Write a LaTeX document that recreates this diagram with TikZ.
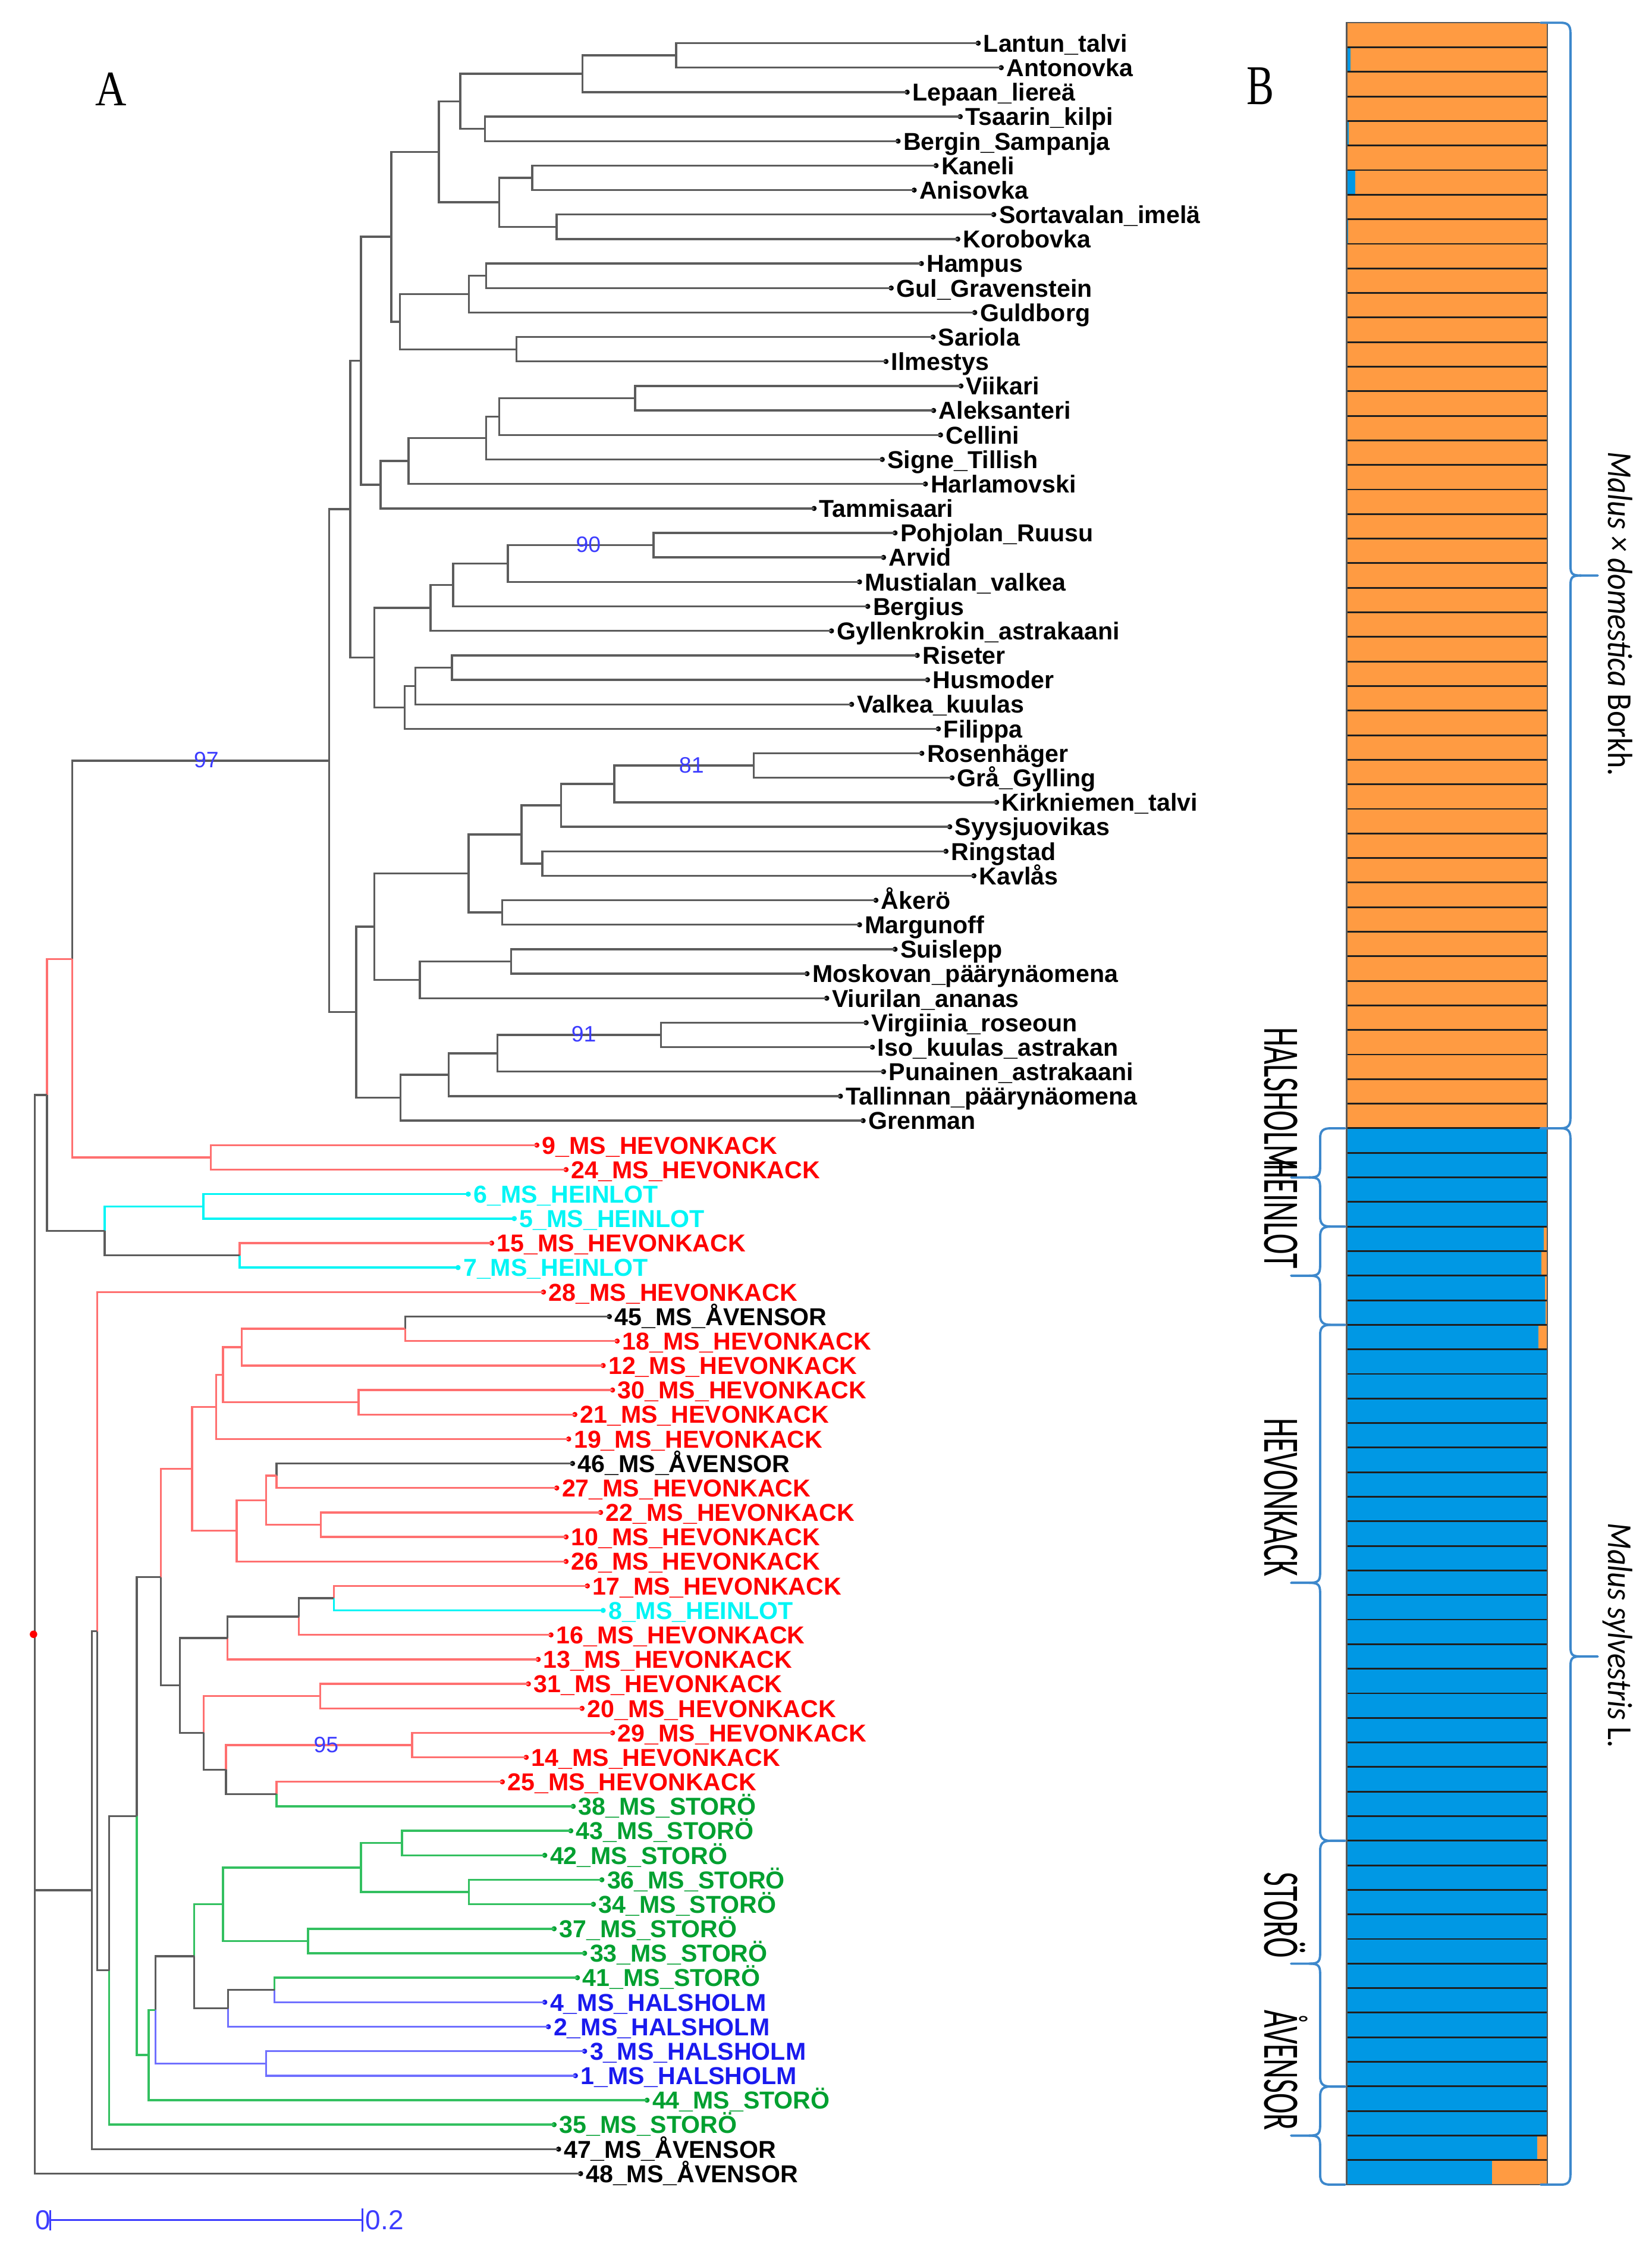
\documentclass[tikz,border=0pt]{standalone}
\usepackage{fontspec}
\usepackage{graphicx}
\setmainfont{Liberation Sans}
\newfontfamily\carl{Carlito}
\newfontfamily\serifA{Liberation Serif}
\usetikzlibrary{calc}
\definecolor{tgrey}{HTML}{5C5C5C}
\definecolor{ered}{HTML}{FF7070}
\definecolor{lred}{HTML}{FF0000}
\definecolor{ccyan}{HTML}{00F5F5}
\definecolor{egreen}{HTML}{33C060}
\definecolor{lgreen}{HTML}{00A030}
\definecolor{eblue}{HTML}{7070FF}
\definecolor{lblue}{HTML}{1A1AEE}
\definecolor{bootc}{HTML}{3C3CFF}
\definecolor{qorange}{HTML}{FF9B42}
\definecolor{qblue}{HTML}{0098E4}
\definecolor{bracec}{HTML}{3D88CC}
% leaf: idx, tip x, label, colour
\newcommand\lf[4]{%
  \coordinate (t#1) at (#2,{30+17.02*#1});
  \fill[#4] (t#1) circle (1.8);
  \node[leaflab,text=#4,anchor=base west] (l#1) at (#2+3.5,{30+17.02*#1+6.1}) {#3};
}
% join: name, x, child1, colour1, child2, colour2
\newcommand\jn[6]{%
  \path let \p1=(#3), \p2=(#5) in (#2,{0.5*(\y1+\y2)}) coordinate (#1);
  \draw[tedge,#4] (#3) -- (#3 -| #1) -- (#1);
  \draw[tedge,#6] (#5) -- (#5 -| #1) -- (#1);
}
\newcommand\rbr[2]{%
  \pgfmathsetmacro\ym{(#1+#2)/2}
  \draw[bracestyle] (1071,#1) -- (1085,#1) .. controls (1090,#1) and (1091.7,#1+2) .. (1091.7,#1+7) -- (1091.7,\ym-7) .. controls (1091.7,\ym-1) and (1093,\ym) .. (1099,\ym) -- (1110.7,\ym);
  \draw[bracestyle] (1071,#2) -- (1085,#2) .. controls (1090,#2) and (1091.7,#2-2) .. (1091.7,#2-7) -- (1091.7,\ym+7) .. controls (1091.7,\ym+1) and (1093,\ym) .. (1099,\ym);
}
\newcommand\lbr[2]{%
  \pgfmathsetmacro\ym{(#1+#2)/2}
  \draw[bracestyle] (935,#1) -- (925,#1) .. controls (919.5,#1) and (917.7,#1+2) .. (917.7,#1+7) -- (917.7,\ym-7) .. controls (917.7,\ym-1) and (916,\ym) .. (910,\ym) -- (897.5,\ym);
  \draw[bracestyle] (935,#2) -- (925,#2) .. controls (919.5,#2) and (917.7,#2-2) .. (917.7,#2-7) -- (917.7,\ym+7) .. controls (917.7,\ym+1) and (916,\ym) .. (910,\ym);
}
\begin{document}
\begin{tikzpicture}[x=1pt,y=-1pt,
  tedge/.style={line width=1.4pt,line join=miter},
  leaflab/.style={inner sep=0pt,font=\fontsize{17}{17}\selectfont\bfseries},
  boot/.style={text=bootc,inner sep=0pt,font=\fontsize{15.5}{15.5}\selectfont},
  bsep/.style={line width=1.2pt,draw=black!88},
  bracestyle/.style={draw=bracec,line width=1.6pt,line cap=round},
  grplab/.style={rotate=-90,inner sep=0pt,font=\carl\fontsize{21.5}{21.5}\selectfont},
  spclab/.style={rotate=-90,inner sep=0pt,font=\carl\fontsize{21.5}{21.5}\selectfont},
  panlab/.style={inner sep=0pt,font=\serifA\fontsize{30}{30}\selectfont}]
\fill[white] (0,0) rectangle (1148,1568);
\useasboundingbox (0,0) rectangle (1148,1568);

% ---------------- leaves ----------------
\lf{0}{680}{Lantun\_talvi}{black}
\lf{1}{696}{Antonovka}{black}
\lf{2}{630.6}{Lepaan\_liereä}{black}
\lf{3}{667.5}{Tsaarin\_kilpi}{black}
\lf{4}{624.3}{Bergin\_Sampanja}{black}
\lf{5}{650.7}{Kaneli}{black}
\lf{6}{635.5}{Anisovka}{black}
\lf{7}{690.8}{Sortavalan\_imelä}{black}
\lf{8}{665.8}{Korobovka}{black}
\lf{9}{640.5}{Hampus}{black}
\lf{10}{619.5}{Gul\_Gravenstein}{black}
\lf{11}{677.6}{Guldborg}{black}
\lf{12}{648.6}{Sariola}{black}
\lf{13}{615.9}{Ilmestys}{black}
\lf{14}{668}{Viikari}{black}
\lf{15}{649}{Aleksanteri}{black}
\lf{16}{653.8}{Cellini}{black}
\lf{17}{613.3}{Signe\_Tillish}{black}
\lf{18}{643.3}{Harlamovski}{black}
\lf{19}{565.9}{Tammisaari}{black}
\lf{20}{622.2}{Pohjolan\_Ruusu}{black}
\lf{21}{614.2}{Arvid}{black}
\lf{22}{597.5}{Mustialan\_valkea}{black}
\lf{23}{603.2}{Bergius}{black}
\lf{24}{578}{Gyllenkrokin\_astrakaani}{black}
\lf{25}{637.6}{Riseter}{black}
\lf{26}{644.8}{Husmoder}{black}
\lf{27}{592}{Valkea\_kuulas}{black}
\lf{28}{652.3}{Filippa}{black}
\lf{29}{640.8}{Rosenhäger}{black}
\lf{30}{661.8}{Grå\_Gylling}{black}
\lf{31}{692.8}{Kirkniemen\_talvi}{black}
\lf{32}{660.2}{Syysjuovikas}{black}
\lf{33}{657.6}{Ringstad}{black}
\lf{34}{677}{Kavlås}{black}
\lf{35}{608.9}{Åkerö}{black}
\lf{36}{597.5}{Margunoff}{black}
\lf{37}{622.2}{Suislepp}{black}
\lf{38}{561}{Moskovan\_päärynäomena}{black}
\lf{39}{574.7}{Viurilan\_ananas}{black}
\lf{40}{602.1}{Virgiinia\_roseoun}{black}
\lf{41}{606.4}{Iso\_kuulas\_astrakan}{black}
\lf{42}{614.2}{Punainen\_astrakaani}{black}
\lf{43}{584.2}{Tallinnan\_päärynäomena}{black}
\lf{44}{600}{Grenman}{black}
\lf{45}{373.2}{9\_MS\_HEVONKACK}{lred}
\lf{46}{393.5}{24\_MS\_HEVONKACK}{lred}
\lf{47}{325.5}{6\_MS\_HEINLOT}{ccyan}
\lf{48}{357.5}{5\_MS\_HEINLOT}{ccyan}
\lf{49}{341.8}{15\_MS\_HEVONKACK}{lred}
\lf{50}{318.4}{7\_MS\_HEINLOT}{ccyan}
\lf{51}{377.8}{28\_MS\_HEVONKACK}{lred}
\lf{52}{423.6}{45\_MS\_ÅVENSOR}{black}
\lf{53}{429}{18\_MS\_HEVONKACK}{lred}
\lf{54}{419.3}{12\_MS\_HEVONKACK}{lred}
\lf{55}{425.8}{30\_MS\_HEVONKACK}{lred}
\lf{56}{399.6}{21\_MS\_HEVONKACK}{lred}
\lf{57}{395.3}{19\_MS\_HEVONKACK}{lred}
\lf{58}{398}{46\_MS\_ÅVENSOR}{black}
\lf{59}{387}{27\_MS\_HEVONKACK}{lred}
\lf{60}{417.5}{22\_MS\_HEVONKACK}{lred}
\lf{61}{393.5}{10\_MS\_HEVONKACK}{lred}
\lf{62}{393.5}{26\_MS\_HEVONKACK}{lred}
\lf{63}{408.3}{17\_MS\_HEVONKACK}{lred}
\lf{64}{419.3}{8\_MS\_HEINLOT}{ccyan}
\lf{65}{383}{16\_MS\_HEVONKACK}{lred}
\lf{66}{374.1}{13\_MS\_HEVONKACK}{lred}
\lf{67}{367.3}{31\_MS\_HEVONKACK}{lred}
\lf{68}{404.6}{20\_MS\_HEVONKACK}{lred}
\lf{69}{425.8}{29\_MS\_HEVONKACK}{lred}
\lf{70}{365.8}{14\_MS\_HEVONKACK}{lred}
\lf{71}{349.2}{25\_MS\_HEVONKACK}{lred}
\lf{72}{398.5}{38\_MS\_STORÖ}{lgreen}
\lf{73}{396.8}{43\_MS\_STORÖ}{lgreen}
\lf{74}{378.7}{42\_MS\_STORÖ}{lgreen}
\lf{75}{418.4}{36\_MS\_STORÖ}{lgreen}
\lf{76}{412.5}{34\_MS\_STORÖ}{lgreen}
\lf{77}{385.2}{37\_MS\_STORÖ}{lgreen}
\lf{78}{406.4}{33\_MS\_STORÖ}{lgreen}
\lf{79}{401.4}{41\_MS\_STORÖ}{lgreen}
\lf{80}{378.7}{4\_MS\_HALSHOLM}{lblue}
\lf{81}{381.2}{2\_MS\_HALSHOLM}{lblue}
\lf{82}{406.4}{3\_MS\_HALSHOLM}{lblue}
\lf{83}{400}{1\_MS\_HALSHOLM}{lblue}
\lf{84}{449.8}{44\_MS\_STORÖ}{lgreen}
\lf{85}{385.2}{35\_MS\_STORÖ}{lgreen}
\lf{86}{388.3}{47\_MS\_ÅVENSOR}{black}
\lf{87}{403.6}{48\_MS\_ÅVENSOR}{black}

% ---------------- upper clade ----------------
\jn{a01}{470}{t0}{tgrey}{t1}{tgrey}
\jn{a02}{405}{a01}{tgrey}{t2}{tgrey}
\jn{a34}{337}{t3}{tgrey}{t4}{tgrey}
\jn{a04}{320}{a02}{tgrey}{a34}{tgrey}
\jn{a56}{370}{t5}{tgrey}{t6}{tgrey}
\jn{a78}{387}{t7}{tgrey}{t8}{tgrey}
\jn{a58}{347}{a56}{tgrey}{a78}{tgrey}
\jn{a08}{305}{a04}{tgrey}{a58}{tgrey}
\jn{a910}{338}{t9}{tgrey}{t10}{tgrey}
\jn{a911}{326}{a910}{tgrey}{t11}{tgrey}
\jn{a1213}{359}{t12}{tgrey}{t13}{tgrey}
\jn{a913}{278}{a911}{tgrey}{a1213}{tgrey}
\jn{a013}{272}{a08}{tgrey}{a913}{tgrey}
\jn{a1415}{441.5}{t14}{tgrey}{t15}{tgrey}
\jn{a1416}{347}{a1415}{tgrey}{t16}{tgrey}
\jn{a1417}{338}{a1416}{tgrey}{t17}{tgrey}
\jn{a1418}{284}{a1417}{tgrey}{t18}{tgrey}
\jn{a1419}{264.6}{a1418}{tgrey}{t19}{tgrey}
\jn{a019}{251}{a013}{tgrey}{a1419}{tgrey}
\jn{b2021}{454.3}{t20}{tgrey}{t21}{tgrey}
\jn{b2022}{353}{b2021}{tgrey}{t22}{tgrey}
\jn{b2023}{315}{b2022}{tgrey}{t23}{tgrey}
\jn{b2024}{299.3}{b2023}{tgrey}{t24}{tgrey}
\jn{b2526}{314.1}{t25}{tgrey}{t26}{tgrey}
\jn{b2527}{288.8}{b2526}{tgrey}{t27}{tgrey}
\jn{b2528}{281.4}{b2527}{tgrey}{t28}{tgrey}
\jn{b2028}{260.3}{b2024}{tgrey}{b2528}{tgrey}
\jn{a028}{243.5}{a019}{tgrey}{b2028}{tgrey}
\jn{c2930}{524}{t29}{tgrey}{t30}{tgrey}
\jn{c2931}{427}{c2930}{tgrey}{t31}{tgrey}
\jn{c2932}{390}{c2931}{tgrey}{t32}{tgrey}
\jn{c3334}{377}{t33}{tgrey}{t34}{tgrey}
\jn{c2934}{362.6}{c2932}{tgrey}{c3334}{tgrey}
\jn{c3536}{349}{t35}{tgrey}{t36}{tgrey}
\jn{c2936}{325.7}{c2934}{tgrey}{c3536}{tgrey}
\jn{c3738}{355.2}{t37}{tgrey}{t38}{tgrey}
\jn{c3739}{291.9}{c3738}{tgrey}{t39}{tgrey}
\jn{c2939}{260.3}{c2936}{tgrey}{c3739}{tgrey}
\jn{c4041}{459.6}{t40}{tgrey}{t41}{tgrey}
\jn{c4042}{345.7}{c4041}{tgrey}{t42}{tgrey}
\jn{c4043}{312}{c4042}{tgrey}{t43}{tgrey}
\jn{c4044}{278.3}{c4043}{tgrey}{t44}{tgrey}
\jn{c2944}{247.6}{c2939}{tgrey}{c4044}{tgrey}
\jn{n97}{228.8}{a028}{tgrey}{c2944}{tgrey}

% ---------------- lower part ----------------
\jn{d4546}{146.6}{t45}{ered}{t46}{ered}
\jn{d50}{50.2}{n97}{tgrey}{d4546}{ered}
\jn{d4748}{141.3}{t47}{ccyan}{t48}{ccyan}
\jn{d4950}{166.6}{t49}{ered}{t50}{ccyan}
\jn{d73}{72.8}{d4748}{ccyan}{d4950}{tgrey}
\jn{d33}{32.7}{d50}{ered}{d73}{tgrey}

\jn{e5253}{281.6}{t52}{tgrey}{t53}{ered}
\jn{e5254}{168.1}{e5253}{ered}{t54}{ered}
\jn{e5556}{249.3}{t55}{ered}{t56}{ered}
\jn{e5256}{155}{e5254}{ered}{e5556}{ered}
\jn{e5257}{150.2}{e5256}{ered}{t57}{ered}
\jn{e5859}{192.3}{t58}{tgrey}{t59}{ered}
\jn{e6061}{223.1}{t60}{ered}{t61}{ered}
\jn{e5861}{185}{e5859}{ered}{e6061}{ered}
\jn{e5862}{164.5}{e5861}{ered}{t62}{ered}
\jn{e5262}{133.5}{e5257}{ered}{e5862}{ered}
\jn{f6364}{232}{t63}{ered}{t64}{ccyan}
\jn{f6365}{207.8}{f6364}{tgrey}{t65}{ered}
\jn{f6366}{158.2}{f6365}{tgrey}{t66}{ered}
\jn{f6768}{222.5}{t67}{ered}{t68}{ered}
\jn{f6970}{286.4}{t69}{ered}{t70}{ered}
\jn{f7172}{192.3}{t71}{ered}{t72}{egreen}
\jn{f6972}{157.1}{f6970}{ered}{f7172}{tgrey}
\jn{f6772}{141.7}{f6768}{ered}{f6972}{tgrey}
\jn{f6372}{125.1}{f6366}{tgrey}{f6772}{tgrey}
\jn{e5272}{111.8}{e5262}{ered}{f6372}{tgrey}
\jn{g7374}{279.5}{t73}{egreen}{t74}{egreen}
\jn{g7576}{325.9}{t75}{egreen}{t76}{egreen}
\jn{g7376}{251}{g7374}{egreen}{g7576}{egreen}
\jn{g7778}{214.1}{t77}{egreen}{t78}{egreen}
\jn{g7378}{155}{g7376}{egreen}{g7778}{egreen}
\jn{g7980}{190.9}{t79}{egreen}{t80}{eblue}
\jn{g7981}{158.6}{g7980}{tgrey}{t81}{eblue}
\jn{g7381}{135}{g7378}{egreen}{g7981}{tgrey}
\jn{g8283}{185}{t82}{eblue}{t83}{eblue}
\jn{g7383}{108}{g7381}{tgrey}{g8283}{eblue}
\jn{g7384}{103.3}{g7383}{egreen}{t84}{egreen}
\jn{h5284}{95}{e5272}{tgrey}{g7384}{egreen}
\jn{h5285}{75.9}{h5284}{tgrey}{t85}{egreen}
\jn{h5185}{67.5}{t51}{ered}{h5285}{tgrey}
\jn{h5186}{63.8}{h5185}{tgrey}{t86}{tgrey}

% root (three children)
\path let \p1=(d33), \p2=(t87) in (24.3,{0.5*(\y1+\y2)}) coordinate (root);
\draw[tedge,tgrey] (d33) -- (d33 -| root) -- (t87 -| root) -- (t87);
\draw[tedge,tgrey] (h5186) -- (h5186 -| root);
\fill[red] (root) ++(-1,0) circle (2.6);

% bootstrap values
\node[boot] (bs97) at (143.4,528.3) {97};
\node[boot] (bs90) at (409,378.5) {90};
\node[boot] (bs81) at (480.7,532) {81};
\node[boot] (bs91) at (405.8,718.8) {91};
\node[boot] (bs95) at (226.7,1212.7) {95};

% scale bar
\draw[bootc,line width=1.3pt] (34.8,1543) -- (252,1543);
\draw[bootc,line width=1.3pt] (34.8,1536) -- (34.8,1550);
\draw[bootc,line width=1.3pt] (252,1535) -- (252,1551);
\node[inner sep=0pt,anchor=east,text=bootc,font=\fontsize{19}{19}\selectfont] (sc0) at (35.5,1543) {0};
\node[inner sep=0pt,anchor=west,text=bootc,font=\fontsize{19}{19}\selectfont] (sc2) at (254,1543) {0.2};

% panel letters
\node[panlab] (pA) at (77,62) {\scalebox{1}[1.15]{A}};
\node[panlab] (pB) at (876,60) {\scalebox{0.95}[1.3]{B}};

% ---------------- panel B ----------------
\fill[qorange] (936.1,15.8) rectangle (1075.7,784.2);
\fill[qblue] (936.1,784.2) rectangle (1075.7,1518.4);
\foreach \r/\w in {1/2.8,4/1.3,6/5.9,8/1.0}
  \fill[qblue] (936.1,{15.8+17.075*\r}) rectangle (936.1+\w,{15.8+17.075*(\r+1)});
\foreach \r/\w in {49/2.4,50/4.2,51/1.8,52/1.3,53/6.1,86/7.3,87/38.6}
  \fill[qorange] (1075.7-\w,{15.8+17.075*\r}) rectangle (1075.7,{15.8+17.075*(\r+1)});
\foreach \i in {1,...,87}
  \draw[bsep] (936.1,{15.8+17.075*\i}) -- (1075.7,{15.8+17.075*\i});
\draw[black!65,line width=1pt] (936.1,15.8) rectangle (1075.7,1518.4);

% braces
\rbr{15.8}{784.2}
\rbr{784.2}{1518.4}
\lbr{784.2}{852.5}
\lbr{852.5}{920.8}
\lbr{920.8}{1279.4}
\lbr{1279.4}{1450.2}
\lbr{1450.2}{1518.4}

% group labels
\node[grplab,anchor=base east] (gHAL) at (879,814) {\scalebox{1}[1.65]{HALSHOLM}};
\node[grplab,anchor=base east] (gHEI) at (879,882) {\scalebox{1}[1.65]{HEINLOT}};
\node[grplab,anchor=base east] (gHEV) at (879,1096) {\scalebox{1}[1.65]{HEVONKACK}};
\node[grplab,anchor=base east] (gSTO) at (879,1361) {\scalebox{1}[1.65]{STORÖ}};
\node[grplab,anchor=base east] (gAVE) at (879,1481) {\scalebox{1}[1.65]{ÅVENSOR}};

% species labels
\node[spclab,anchor=base west] (sdom) at (1118,313.7) {\scalebox{1}[1.13]{\itshape Malus × domestica \upshape Borkh.}};
\node[spclab,anchor=base west] (ssyl) at (1118,1058.3) {\scalebox{1}[1.13]{\itshape Malus sylvestris \upshape L.}};
\end{tikzpicture}
\end{document}
